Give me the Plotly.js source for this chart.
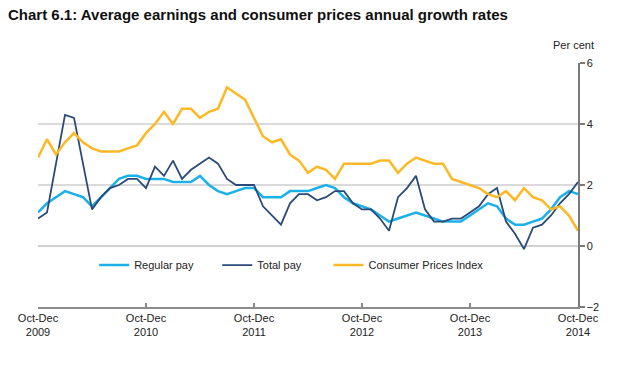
<!DOCTYPE html>
<html>
<head>
<meta charset="utf-8">
<script src="https://cdn.plot.ly/plotly-3.0.1.min.js"></script>
<style>html,body{margin:0;padding:0;background:#fff;}#chart{width:620px;height:368px;}</style>
</head>
<body>
<div id="chart"></div>
<script>
// Months from Oct-Dec 2009 (index 0) to Oct-Dec 2014 (index 60)
const regularPay = [1.1,1.4,1.6,1.8,1.7,1.6,1.3,1.6,1.9,2.2,2.3,2.3,2.2,2.2,2.2,2.1,2.1,2.1,2.3,2.0,1.8,
  1.7,1.8,1.9,1.9,1.6,1.6,1.6,1.8,1.8,1.8,1.9,2.0,1.9,1.6,1.4,1.3,1.2,1.0,0.8,0.9,
  1.0,1.1,1.0,0.9,0.8,0.8,0.8,1.0,1.2,1.4,1.3,0.9,0.7,0.7,0.8,0.9,1.2,1.6,1.8,1.7];
const totalPay = [0.9,1.1,2.7,4.3,4.2,2.7,1.2,1.6,1.9,2.0,2.2,2.2,1.9,2.6,2.3,2.8,2.2,2.5,2.7,2.9,2.7,
  2.2,2.0,2.0,2.0,1.3,1.0,0.7,1.4,1.7,1.7,1.5,1.6,1.8,1.8,1.4,1.2,1.2,0.9,0.5,1.6,
  1.9,2.3,1.2,0.8,0.8,0.9,0.9,1.1,1.3,1.7,1.9,0.8,0.4,-0.1,0.6,0.7,1.0,1.4,1.7,2.1];
const cpi = [2.9,3.5,3.0,3.4,3.7,3.4,3.2,3.1,3.1,3.1,3.2,3.3,3.7,4.0,4.4,4.0,4.5,4.5,4.2,4.4,4.5,
  5.2,5.0,4.8,4.2,3.6,3.4,3.5,3.0,2.8,2.4,2.6,2.5,2.2,2.7,2.7,2.7,2.7,2.8,2.8,2.4,
  2.7,2.9,2.8,2.7,2.7,2.2,2.1,2.0,1.9,1.7,1.6,1.8,1.5,1.9,1.6,1.5,1.2,1.3,1.0,0.5];
const tickPositions = [0,12,24,36,48,60];
const tickLabels = ['Oct-Dec<br>2009','Oct-Dec<br>2010','Oct-Dec<br>2011','Oct-Dec<br>2012','Oct-Dec<br>2013','Oct-Dec<br>2014'];
const yTicks = [-2,0,2,4,6];
const seriesNames = ['Regular pay','Total pay','Consumer Prices Index'];

const months = regularPay.map((_, i) => i);
const FONT = 'Liberation Sans, Arial, sans-serif';

const traces = [
  {x: months, y: regularPay, name: seriesNames[0], type: 'scatter', mode: 'lines',
   line: {color: '#1cb0e8', width: 2.5}, legend: 'legend'},
  {x: months, y: totalPay, name: seriesNames[1], type: 'scatter', mode: 'lines',
   line: {color: '#2b4a78', width: 1.8}, legend: 'legend2'},
  {x: months, y: cpi, name: seriesNames[2], type: 'scatter', mode: 'lines',
   line: {color: '#fdb827', width: 2.5}, legend: 'legend3'}
];

const legendBase = {orientation: 'h', bgcolor: 'rgba(0,0,0,0)', font: {family: FONT, size: 11, color: '#222'},
  xanchor: 'left', yanchor: 'middle', y: 0.172, itemwidth: 30};

const layout = {
  width: 620, height: 368,
  margin: {l: 38, r: 42, t: 63, b: 61},
  paper_bgcolor: '#fff', plot_bgcolor: '#fff',
  font: {family: FONT, size: 11, color: '#222'},
  title: {text: '<b>Chart 6.1: Average earnings and consumer prices annual growth rates</b>',
    font: {family: FONT, size: 15, color: '#111'},
    x: 8/620, xref: 'container', xanchor: 'left', y: 1 - 15/368, yref: 'container', yanchor: 'middle'},
  xaxis: {range: [0, 60], tickvals: tickPositions, ticktext: tickLabels,
    showgrid: false, zeroline: false, showline: true, linecolor: '#8c8c8c', linewidth: 1.5,
    ticks: 'inside', ticklen: 4, tickcolor: '#8c8c8c', tickwidth: 1.5,
    tickfont: {family: FONT, size: 11, color: '#222'}, fixedrange: true},
  yaxis: {range: [-2, 6], side: 'right', tickvals: yTicks,
    showgrid: true, gridcolor: '#dadada', gridwidth: 1.5,
    zeroline: true, zerolinecolor: '#d0d0d0', zerolinewidth: 1.5,
    showline: true, linecolor: '#7a7a7a', linewidth: 1.5,
    ticks: 'outside', ticklen: 5, tickcolor: '#7a7a7a', tickwidth: 1.5,
    tickfont: {family: FONT, size: 11, color: '#222'}, fixedrange: true},
  showlegend: true,
  legend: Object.assign({}, legendBase, {x: 0.104}),
  legend2: Object.assign({}, legendBase, {x: 0.332}),
  legend3: Object.assign({}, legendBase, {x: 0.538}),
  annotations: [{text: 'Per cent', xref: 'paper', yref: 'paper', x: 1.034, y: 1.075,
    xanchor: 'right', yanchor: 'middle', showarrow: false, font: {family: FONT, size: 11, color: '#222'}}]
};

Plotly.newPlot('chart', traces, layout, {displayModeBar: false, staticPlot: true});
</script>
</body>
</html>
